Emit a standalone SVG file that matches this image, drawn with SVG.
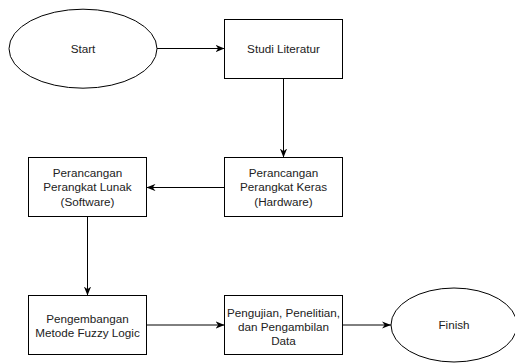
<svg xmlns="http://www.w3.org/2000/svg" width="515" height="363" viewBox="0 0 515 363">
<defs>
<style>
.n{fill:#fff;stroke:#000;stroke-width:1}
.t{font-family:"Liberation Sans",Arial,sans-serif;font-size:11.7px;fill:#222;text-anchor:middle}
.e{fill:none;stroke:#000;stroke-width:1}
</style>
<marker id="ah" viewBox="0 0 10 8" refX="10" refY="4" markerWidth="9" markerHeight="7.2" markerUnits="userSpaceOnUse" orient="auto">
<path d="M0,0 L10,4 L0,8 L3,4 Z" fill="#000"/>
</marker>
</defs>
<rect width="515" height="363" fill="#fff"/>
<g id="edges">
<line class="e" x1="157" y1="48.5" x2="224.5" y2="48.5" marker-end="url(#ah)"/>
<line class="e" x1="283.5" y1="78.5" x2="283.5" y2="157.5" marker-end="url(#ah)"/>
<line class="e" x1="224.5" y1="187.5" x2="146.5" y2="187.5" marker-end="url(#ah)"/>
<line class="e" x1="87.5" y1="216.5" x2="87.5" y2="295.5" marker-end="url(#ah)"/>
<line class="e" x1="146.5" y1="325" x2="224.5" y2="325" marker-end="url(#ah)"/>
<line class="e" x1="342.5" y1="325" x2="391" y2="325" marker-end="url(#ah)"/>
</g>
<g id="start">
<ellipse class="n" cx="83" cy="48.7" rx="74" ry="39.5"/>
<text class="t" x="83" y="52.7">Start</text>
</g>
<g id="studi">
<rect class="n" x="224.5" y="19.5" width="118" height="59"/>
<text class="t" x="283.5" y="53">Studi Literatur</text>
</g>
<g id="hardware">
<rect class="n" x="224.5" y="157.5" width="118" height="59"/>
<text class="t" x="283.5" y="177"><tspan x="283.5">Perancangan</tspan><tspan x="283.5" dy="14.4">Perangkat Keras</tspan><tspan x="283.5" dy="14.4">(Hardware)</tspan></text>
</g>
<g id="software">
<rect class="n" x="28.5" y="157.5" width="118" height="59"/>
<text class="t" x="87.5" y="177"><tspan x="87.5">Perancangan</tspan><tspan x="87.5" dy="14.4">Perangkat Lunak</tspan><tspan x="87.5" dy="14.4">(Software)</tspan></text>
</g>
<g id="fuzzy">
<rect class="n" x="28.5" y="295.5" width="118" height="59"/>
<text class="t" x="87.5" y="322.8"><tspan x="87.5">Pengembangan</tspan><tspan x="87.5" dy="14.4">Metode Fuzzy Logic</tspan></text>
</g>
<g id="pengujian">
<rect class="n" x="224.5" y="295.5" width="118" height="59"/>
<text class="t" x="283.5" y="316.6"><tspan x="283.5">Pengujian, Penelitian,</tspan><tspan x="283.5" dy="14.4">dan Pengambilan</tspan><tspan x="283.5" dy="14.4">Data</tspan></text>
</g>
<g id="finish">
<ellipse class="n" cx="454" cy="325" rx="63" ry="37"/>
<text class="t" x="454" y="329">Finish</text>
</g>
</svg>
